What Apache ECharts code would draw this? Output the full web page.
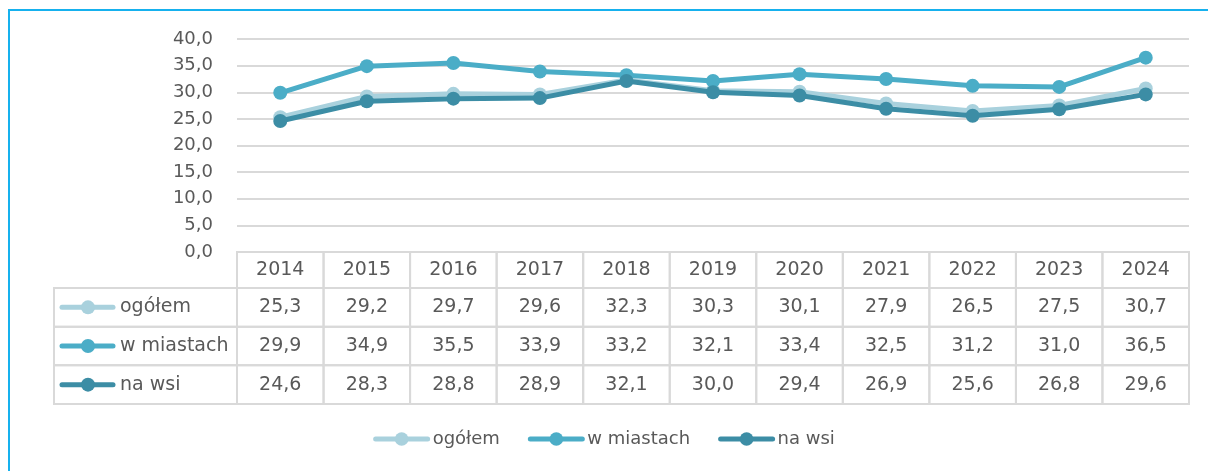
<!DOCTYPE html>
<html><head><meta charset="utf-8">
<script src="https://cdn.jsdelivr.net/npm/echarts@6/dist/echarts.min.js"></script>
<style>html,body{margin:0;padding:0;background:#fff}#c{width:1208px;height:471px}</style>
</head><body><div id="c"></div>
<script>
const years = ['2014','2015','2016','2017','2018','2019','2020','2021','2022','2023','2024'];
const seriesNames = ['ogółem','w miastach','na wsi'];
const ogolem = [25.3,29.2,29.7,29.6,32.3,30.3,30.1,27.9,26.5,27.5,30.7];
const wMiastach = [29.9,34.9,35.5,33.9,33.2,32.1,33.4,32.5,31.2,31.0,36.5];
const naWsi = [24.6,28.3,28.8,28.9,32.1,30.0,29.4,26.9,25.6,26.8,29.6];
const yMin = 0, yMax = 40, yStep = 5;

const values = [ogolem, wMiastach, naWsi];
const colors = ['#A9D1DD','#4BADC7','#3C8DA5'];
const txt = '#595959';
const lineCol = '#D9D9D9';
const font = 'DejaVu Sans';
const fmt = v => v.toFixed(1).replace('.', ',');

const chart = echarts.init(document.getElementById('c'));

function cellRect(api, i, j) {
  const c = api.coord([i, j]);
  const s = api.size([1, 1]);
  return {x: c[0] - s[0] / 2, y: c[1] - s[1] / 2, w: s[0], h: s[1], cx: c[0], cy: c[1]};
}

const headerData = years.map((y, i) => [i, 0, y]);
const bodyData = [];
values.forEach((arr, r) => arr.forEach((v, i) => bodyData.push([i, r, fmt(v)])));
const labelData = seriesNames.map((n, r) => [0, r, n, r]);

const lineSeries = seriesNames.map((n, k) => ({
  name: n,
  type: 'line',
  xAxisIndex: 0, yAxisIndex: 0,
  data: values[k],
  symbol: 'circle',
  symbolSize: 14,
  lineStyle: {width: 5, color: colors[k]},
  itemStyle: {color: colors[k]},
  emphasis: {disabled: true},
  z: 2 + k
}));

chart.setOption({
  animation: false,
  textStyle: {fontFamily: font, color: txt},
  graphic: [{
    type: 'rect', shape: {x: 9, y: 10, width: 1215, height: 480},
    style: {fill: 'none', stroke: '#16B1EE', lineWidth: 2}, silent: true, z: 100
  }],
  legend: {
    data: seriesNames,
    left: 'center', top: 425,
    itemWidth: 52, itemHeight: 17, itemGap: 28,
    lineStyle: {width: 5, cap: 'round'},
    textStyle: {fontFamily: font, fontSize: 18, color: txt},
    selectedMode: false
  },
  grid: [
    {left: 237, right: 19, top: 39, height: 213},
    {left: 237, right: 19, top: 252, height: 36},
    {left: 237, right: 19, top: 288, height: 116},
    {left: 54, width: 183, top: 288, height: 116}
  ],
  xAxis: [
    {type: 'category', data: years, gridIndex: 0, boundaryGap: true,
     axisLine: {show: false}, axisTick: {show: false}, axisLabel: {show: false}},
    {type: 'category', data: years, gridIndex: 1, show: false},
    {type: 'category', data: years, gridIndex: 2, show: false},
    {type: 'category', data: ['l'], gridIndex: 3, show: false}
  ],
  yAxis: [
    {type: 'value', gridIndex: 0, min: yMin, max: yMax, interval: yStep,
     axisLine: {show: false}, axisTick: {show: false},
     axisLabel: {formatter: v => fmt(v), fontSize: 18, color: txt, margin: 24, fontFamily: font},
     splitLine: {lineStyle: {color: lineCol, width: 2}}},
    {type: 'category', data: ['h'], gridIndex: 1, show: false},
    {type: 'category', data: seriesNames, gridIndex: 2, inverse: true, show: false},
    {type: 'category', data: seriesNames, gridIndex: 3, inverse: true, show: false}
  ],
  series: lineSeries.concat([
    {
      type: 'custom', xAxisIndex: 1, yAxisIndex: 1, data: headerData, silent: true, clip: false,
      renderItem: (params, api) => {
        const i = api.value(0);
        const r = cellRect(api, i, 0);
        return {type: 'group', children: [
          {type: 'rect', shape: {x: r.x, y: r.y, width: r.w, height: r.h},
           style: {fill: 'none', stroke: lineCol, lineWidth: 2}},
          {type: 'text', x: r.cx, y: r.cy,
           style: {text: headerData[params.dataIndex][2], fill: txt, font: '19px "DejaVu Sans"', align: 'center', verticalAlign: 'middle'}}
        ]};
      }
    },
    {
      type: 'custom', xAxisIndex: 2, yAxisIndex: 2, data: bodyData, silent: true, clip: false,
      renderItem: (params, api) => {
        const d = bodyData[params.dataIndex];
        const r = cellRect(api, d[0], d[1]);
        return {type: 'group', children: [
          {type: 'rect', shape: {x: r.x, y: r.y, width: r.w, height: r.h},
           style: {fill: 'none', stroke: lineCol, lineWidth: 2}},
          {type: 'text', x: r.cx, y: r.cy,
           style: {text: d[2], fill: txt, font: '19px "DejaVu Sans"', align: 'center', verticalAlign: 'middle'}}
        ]};
      }
    },
    {
      type: 'custom', xAxisIndex: 3, yAxisIndex: 3, data: labelData, silent: true, clip: false,
      renderItem: (params, api) => {
        const d = labelData[params.dataIndex];
        const r = cellRect(api, 0, d[1]);
        const col = colors[d[3]];
        return {type: 'group', children: [
          {type: 'rect', shape: {x: r.x, y: r.y, width: r.w, height: r.h},
           style: {fill: 'none', stroke: lineCol, lineWidth: 2}},
          {type: 'line', shape: {x1: r.x + 8, y1: r.cy, x2: r.x + 59, y2: r.cy},
           style: {stroke: col, lineWidth: 5, lineCap: 'round'}},
          {type: 'circle', shape: {cx: r.x + 34, cy: r.cy, r: 7}, style: {fill: col}},
          {type: 'text', x: r.x + 66, y: r.cy,
           style: {text: d[2], fill: txt, font: '19px "DejaVu Sans"', align: 'left', verticalAlign: 'middle'}}
        ]};
      }
    }
  ])
});
</script></body></html>
